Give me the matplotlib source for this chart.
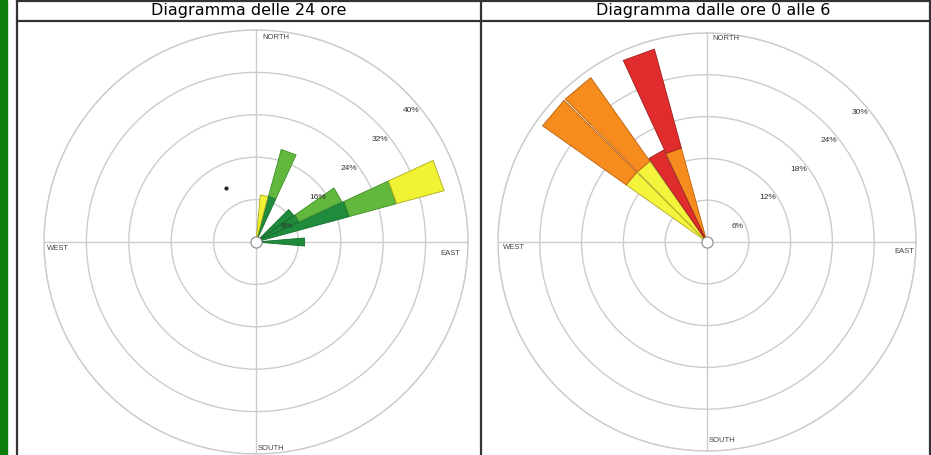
import numpy as np
import matplotlib
matplotlib.use('Agg')
import matplotlib.pyplot as plt
from matplotlib.lines import Line2D
from matplotlib.patches import Rectangle
from matplotlib.transforms import offset_copy

# left rose: whole day, 10 deg sectors, segment lengths in %
dirs_24 = [10, 20, 50, 60, 70, 90]
dark_24 = [0.0, 9.0, 8.7, 9.0, 18.3, 9.2]
medium_24 = [0.0, 9.1, 0.0, 8.9, 9.2, 0.0]
yellow_24 = [8.9, 0.0, 0.0, 0.0, 9.3, 0.0]
rings_24 = [8, 16, 24, 32, 40]
dot_24 = (331, 11.6)

# right rose: hours 0-6
dirs_06 = [310, 320, 330, 340]
yellow_06 = [14.2, 14.2, 0.0, 0.0]
orange_06 = [14.7, 14.7, 0.0, 14.0]
red_06 = [0.0, 0.0, 14.6, 14.7]
rings_06 = [6, 12, 18, 24, 30]

titles = ['Diagramma delle 24 ore', 'Diagramma dalle ore 0 alle 6']
compass = ['NORTH', 'EAST', 'SOUTH', 'WEST']

W, H = 931, 455
fig = plt.figure(figsize=(W / 100, H / 100), dpi=100)
fig.patch.set_facecolor('white')
plt.rcParams['font.family'] = ['Liberation Sans', 'DejaVu Sans']


def px_axes(cx, cy, r):
    # polar axes from pixel centre / radius (image coords, y down)
    return fig.add_axes([(cx - r) / W, (H - cy - r) / H, 2 * r / W, 2 * r / H],
                        projection='polar')


def setup(ax, rings, place):
    ax.set_theta_zero_location('N')
    ax.set_theta_direction(-1)
    ax.set_ylim(0, rings[-1])
    ax.set_yticks(rings)
    ax.set_yticklabels([])
    ax.set_xticks(np.radians([0, 90, 180, 270]))
    ax.set_xticklabels([])
    ax.grid(True, color='#cccccc', lw=1.0)
    ax.spines['polar'].set_color('#cccccc')
    ax.spines['polar'].set_linewidth(1.0)
    tr = offset_copy(ax.transData, fig=fig, x=0, y=-13, units='dots')
    for r in rings:
        ax.text(np.radians(47), r, '%d%%' % r, fontsize=6, color='#333333',
                ha='center', va='center', zorder=6, transform=tr)
    top = rings[-1]
    for name, (ang, frac, ha) in zip(compass, place):
        ax.text(np.radians(ang), top * frac, name, fontsize=5.5, color='#444444',
                ha=ha, va='center')
    ax.plot([0], [0], 'o', ms=8, mfc='white', mec='#888888', mew=0.8, zorder=7,
            clip_on=False)


def stack(ax, dirs, layers):
    # straight-edged wedges like the original rose
    half = np.radians(9.5) / 2
    bottom = np.zeros(len(dirs))
    for vals, fc, ec in layers:
        for i, d in enumerate(dirs):
            if vals[i] <= 0:
                continue
            t = np.radians(d)
            r0, r1 = bottom[i], bottom[i] + vals[i]
            ax.fill([t - half, t - half, t + half, t + half],
                    [r0, r1, r1, r0], facecolor=fc, edgecolor=ec,
                    linewidth=0.6, zorder=4)
        bottom = bottom + np.array(vals)


ax1 = px_axes(256, 242, 212)
setup(ax1, rings_24, [(1.7, 0.967, 'left'), (93.5, 0.92, 'center'),
                      (179.6, 0.972, 'left'), (268, 0.934, 'center')])
stack(ax1, dirs_24, [(dark_24, '#1e8c3c', '#146b2c'),
                     (medium_24, '#62b83c', '#3f8f28'),
                     (yellow_24, '#f2f234', '#a8a820')])
ax1.plot(np.radians(dot_24[0]), dot_24[1], 'o', ms=2, color='#222222', zorder=5)

ax2 = px_axes(707, 242, 209)
setup(ax2, rings_06, [(1.4, 0.976, 'left'), (92.9, 0.944, 'center'),
                      (179.6, 0.952, 'left'), (268.5, 0.924, 'center')])
stack(ax2, dirs_06, [(yellow_06, '#f4f43c', '#b0a820'),
                     (orange_06, '#f78c1e', '#b8600e'),
                     (red_06, '#e02c2c', '#9e1c1c')])

# slide furniture: green strip, table borders, titles
fig.add_artist(Rectangle((0, 0), 7 / W, 1, transform=fig.transFigure,
                         color='#0a7d0a', zorder=0))
for x in [17, 481, 930]:
    fig.add_artist(Line2D([x / W, x / W], [0, 1], color='#333333', lw=1.6,
                          transform=fig.transFigure))
for y in [1, 21]:
    fig.add_artist(Line2D([17 / W, 930 / W], [1 - y / H, 1 - y / H], color='#333333',
                          lw=1.6, transform=fig.transFigure))
fig.text(249 / W, 1 - 10 / H, titles[0], fontsize=11.5, ha='center', va='center',
         family='DejaVu Sans')
fig.text(713 / W, 1 - 10 / H, titles[1], fontsize=11.5, ha='center', va='center',
         family='DejaVu Sans')

fig.savefig('out.png', dpi=100)
